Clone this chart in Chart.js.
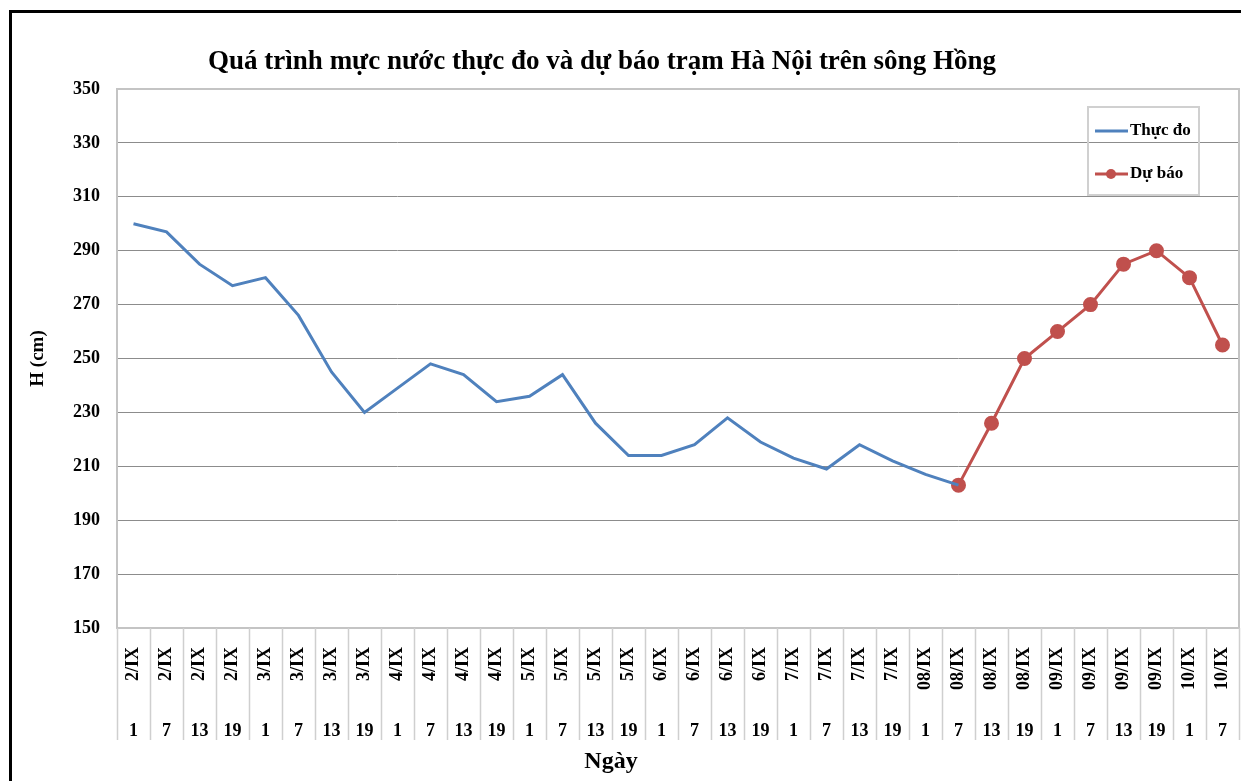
<!DOCTYPE html>
<html lang="vi">
<head>
    <meta charset="UTF-8">
    <title>Mực nước trạm Hà Nội trên sông Hồng</title>
    <script src="https://cdn.jsdelivr.net/npm/chart.js"></script>
    <style>
        html, body { margin: 0; padding: 0; background: #fff; overflow: hidden; }
        .frame {
            position: absolute; left: 9px; top: 10px;
            width: 1400px; height: 900px;
            border-left: 3px solid #000; border-top: 3px solid #000;
        }
        #chart { position: absolute; left: 0; top: 0; }
    </style>
</head>
<body>
    <div class="frame"></div>
    <canvas id="chart" width="1241" height="781"></canvas>

    <script>
        // day labels (upper row) and observation hours (lower row)
        const days = [
            '2/IX', '2/IX', '2/IX', '2/IX', '3/IX', '3/IX', '3/IX', '3/IX',
            '4/IX', '4/IX', '4/IX', '4/IX', '5/IX', '5/IX', '5/IX', '5/IX',
            '6/IX', '6/IX', '6/IX', '6/IX', '7/IX', '7/IX', '7/IX', '7/IX',
            '08/IX', '08/IX', '08/IX', '08/IX', '09/IX', '09/IX', '09/IX', '09/IX',
            '10/IX', '10/IX'
        ];
        const hours = [
            '1', '7', '13', '19', '1', '7', '13', '19',
            '1', '7', '13', '19', '1', '7', '13', '19',
            '1', '7', '13', '19', '1', '7', '13', '19',
            '1', '7', '13', '19', '1', '7', '13', '19',
            '1', '7'
        ];

        // water level H (cm)
        const thucDo = [
            300, 297, 285, 277, 280, 266, 245, 230,
            239, 248, 244, 234, 236, 244, 226, 214,
            214, 218, 228, 219, 213, 209, 218, 212,
            207, 203, null, null, null, null, null, null,
            null, null
        ];
        const duBao = [
            null, null, null, null, null, null, null, null,
            null, null, null, null, null, null, null, null,
            null, null, null, null, null, null, null, null,
            null, 203, 226, 250, 260, 270, 285, 290,
            280, 255
        ];

        const yMin = 150, yMax = 350, yStep = 20;

        const serif = '"Liberation Serif", "Times New Roman", serif';
        const blue = '#4F81BD';
        const red = '#C0504D';

        // border, category separators, title and legend
        const decor = {
            id: 'decor',
            beforeDatasetsDraw(chart) {
                const { ctx, chartArea: a } = chart;
                ctx.save();
                ctx.strokeStyle = '#c4c4c4';
                ctx.lineWidth = 2;
                ctx.strokeRect(a.left, a.top, a.width, a.height);
                ctx.restore();
            },
            afterDraw(chart) {
                const { ctx, chartArea: a, scales: { x } } = chart;
                ctx.save();

                // separators between categories under the plot
                const step = x.getPixelForValue(1) - x.getPixelForValue(0);
                ctx.strokeStyle = '#cfcfcf';
                ctx.lineWidth = 1.5;
                for (let i = 0; i <= days.length; i++) {
                    const px = Math.round(x.getPixelForValue(i) - step / 2) + 0.5;
                    ctx.beginPath();
                    ctx.moveTo(px, a.bottom);
                    ctx.lineTo(px, 740);
                    ctx.stroke();
                }

                // titles
                ctx.fillStyle = '#000';
                ctx.textAlign = 'center';
                ctx.textBaseline = 'middle';
                ctx.font = 'bold 27px ' + serif;
                ctx.fillText('Quá trình mực nước thực đo và dự báo trạm Hà Nội trên sông Hồng', 602, 62);
                ctx.font = 'bold 24px ' + serif;
                ctx.fillText('Ngày', 611, 762);

                // legend
                ctx.strokeStyle = '#d0d0d0';
                ctx.lineWidth = 2;
                ctx.strokeRect(1088, 107, 111, 88);
                ctx.lineWidth = 3;
                ctx.strokeStyle = blue;
                ctx.beginPath();
                ctx.moveTo(1095, 131);
                ctx.lineTo(1128, 131);
                ctx.stroke();
                ctx.strokeStyle = red;
                ctx.beginPath();
                ctx.moveTo(1095, 174);
                ctx.lineTo(1128, 174);
                ctx.stroke();
                ctx.fillStyle = red;
                ctx.beginPath();
                ctx.arc(1111, 174, 5, 0, Math.PI * 2);
                ctx.fill();
                ctx.fillStyle = '#000';
                ctx.textAlign = 'left';
                ctx.font = 'bold 17px ' + serif;
                ctx.fillText('Thực đo', 1130, 131);
                ctx.fillText('Dự báo', 1130, 174);

                ctx.restore();
            }
        };

        // fixed axis heights, no extra side padding for edge labels
        function fitX(h) {
            return s => {
                s.height = h;
                s.paddingLeft = 0;
                s.paddingRight = 0;
            };
        }

        new Chart(document.getElementById('chart'), {
            type: 'line',
            data: {
                labels: days,
                datasets: [
                    {
                        label: 'Thực đo',
                        data: thucDo,
                        borderColor: blue,
                        backgroundColor: blue,
                        borderWidth: 3,
                        pointRadius: 0,
                        tension: 0
                    },
                    {
                        label: 'Dự báo',
                        data: duBao,
                        borderColor: red,
                        backgroundColor: red,
                        borderWidth: 3,
                        pointRadius: 6,
                        pointHoverRadius: 6,
                        tension: 0
                    }
                ]
            },
            options: {
                responsive: false,
                animation: false,
                layout: { autoPadding: false, padding: { left: 12, right: 2, top: 89, bottom: 0 } },
                plugins: {
                    legend: { display: false },
                    title: { display: false },
                    tooltip: { enabled: false }
                },
                scales: {
                    y: {
                        min: yMin,
                        max: yMax,
                        afterFit: s => { s.width = 105; },
                        ticks: {
                            stepSize: yStep,
                            color: '#000',
                            padding: 17,
                            font: { family: serif, size: 18, weight: 'bold' }
                        },
                        grid: {
                            drawTicks: false,
                            color: c => (c.tick.value === yMin || c.tick.value === yMax) ? 'rgba(0,0,0,0)' : '#8c8c8c'
                        },
                        border: { display: false },
                        title: {
                            display: true,
                            text: 'H (cm)',
                            color: '#000',
                            padding: { top: 15, bottom: 0 },
                            font: { family: serif, size: 19, weight: 'bold' }
                        }
                    },
                    x: {
                        weight: 0,
                        offset: true,
                        afterFit: fitX(70),
                        grid: { display: false },
                        border: { display: false },
                        ticks: {
                            autoSkip: false,
                            minRotation: 90,
                            maxRotation: 90,
                            padding: 11,
                            color: '#000',
                            font: { family: serif, size: 18, weight: 'bold' }
                        }
                    },
                    x2: {
                        type: 'category',
                        labels: hours,
                        position: 'bottom',
                        weight: 1,
                        offset: true,
                        afterFit: fitX(83),
                        grid: { display: false },
                        border: { display: false },
                        ticks: {
                            autoSkip: false,
                            maxRotation: 0,
                            padding: 15,
                            color: '#000',
                            font: { family: serif, size: 18, weight: 'bold' }
                        }
                    }
                }
            },
            plugins: [decor]
        });
    </script>
</body>
</html>
